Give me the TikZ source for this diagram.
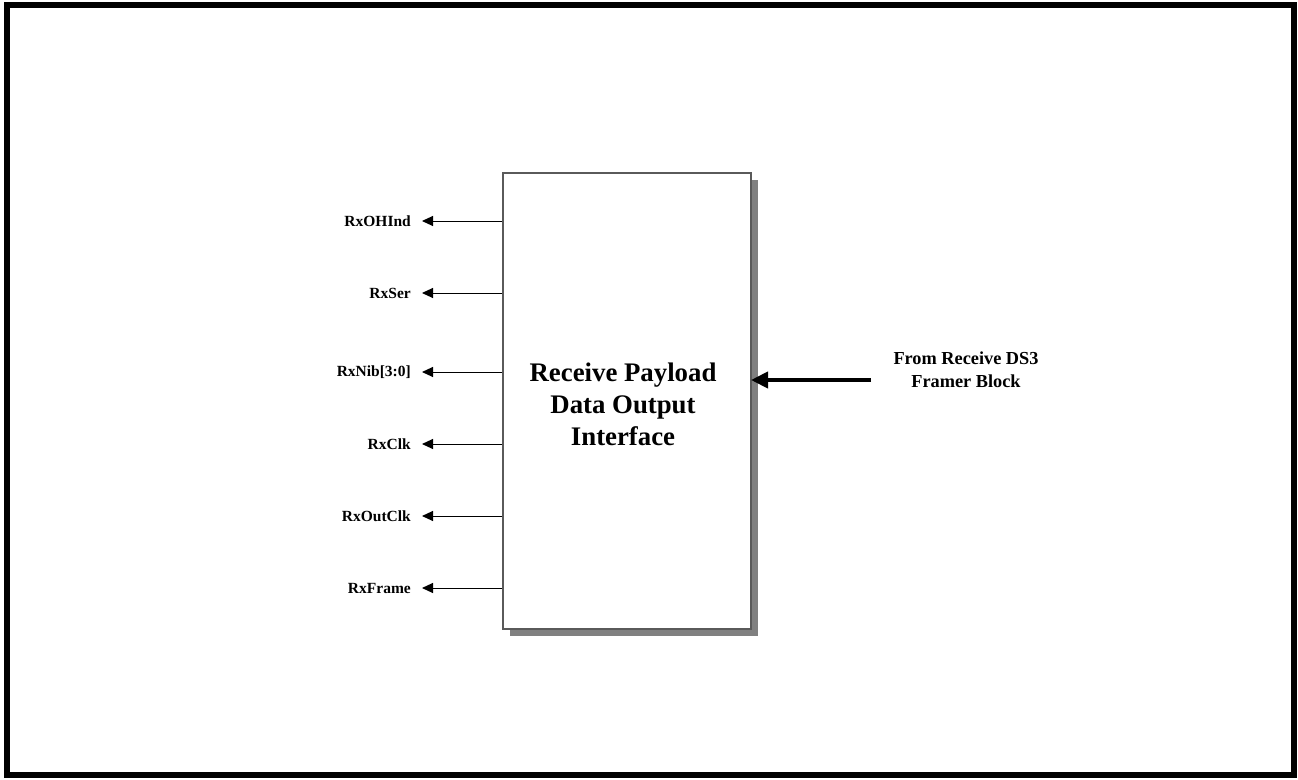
\documentclass[tikz,border=0pt]{standalone}
\usepackage{fontspec}
\setmainfont{Liberation Serif}
\usetikzlibrary{arrows.meta}
\definecolor{shadowgray}{RGB}{128,128,128}
\definecolor{boxedge}{RGB}{90,90,90}
\begin{document}
\begin{tikzpicture}[x=1pt,y=-1pt,
  sig/.style={font=\fontsize{15.5}{18}\selectfont\bfseries, anchor=east, inner sep=0pt},
  sigarrow/.style={draw=black, line width=1pt, -{Triangle[length=11pt,width=10pt]}},
]
\useasboundingbox (0,0) rectangle (1298,779);
\draw[line width=6pt] (7,5) rectangle (1294,775);
% shadow
\fill[shadowgray] (510,180) rectangle (758,636);
\node[draw=boxedge, line width=1.6pt, fill=white, minimum width=248pt, minimum height=456pt, inner sep=0pt, anchor=north west] (blk) at (502,172) {};
\node[font=\fontsize{26.8}{32}\selectfont\bfseries, align=center] (title) at (623,404) {Receive Payload\\Data Output\\Interface};
% signals
\foreach \n/\t/\y in {a/RxOHInd/221, b/RxSer/293, c/RxNib[3:0]/372, d/RxClk/444, e/RxOutClk/516, f/RxFrame/588}{
  \coordinate (s\n) at (502,\y);
  \coordinate (e\n) at (422,\y);
  \draw[sigarrow] (s\n) -- (e\n);
  \node[sig] (l\n) at (411,\y) {\t};
}
\coordinate (src) at (871,380);
\coordinate (dst) at (751,380);
\draw[line width=4pt, -{Triangle[length=17pt,width=16pt]}] (src) -- (dst);
\node[font=\fontsize{18.3}{23}\selectfont\bfseries, align=center] (from) at (966,370) {From Receive DS3\\Framer Block};
\end{tikzpicture}
\end{document}
